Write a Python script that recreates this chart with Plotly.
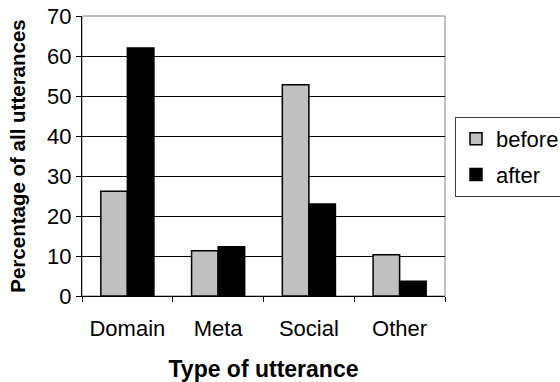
import plotly.graph_objects as go

categories = ["Domain", "Meta", "Social", "Other"]
before = [26.2, 11.3, 52.8, 10.3]
after = [62.0, 12.3, 23.0, 3.7]
series_names = ["before", "after"]

FONT = "Liberation Sans, Arial, sans-serif"

# plot area in pixels: x 82..445, y 16..296
PL, PW, PB, PH = 82, 363, 296, 280

fig = go.Figure()
fig.add_trace(go.Bar(
    x=categories, y=before, name=series_names[0], legendgroup="g1",
    marker=dict(color="#c0c0c0", line=dict(color="black", width=1.5)),
))
fig.add_trace(go.Bar(
    x=categories, y=after, name=series_names[1], legendgroup="g2",
    marker=dict(color="black", line=dict(color="black", width=1.5)),
))

fig.update_layout(
    width=560, height=382,
    margin=dict(l=PL, r=560 - PL - PW, t=PB - PH, b=382 - PB, autoexpand=False),
    paper_bgcolor="white", plot_bgcolor="white",
    barmode="group", bargap=0.415, bargroupgap=0,
    font=dict(family=FONT, size=22, color="black"),
    showlegend=True,
    legend=dict(
        xref="container", yref="container",
        x=455 / 560, xanchor="left", y=1 - 117 / 382, yanchor="top",
        borderwidth=1, bordercolor="#404040", bgcolor="white",
        font=dict(size=22), tracegroupgap=4,
    ),
    xaxis=dict(
        automargin=False,
        showline=True, linecolor="black", linewidth=1,
        ticks="outside", ticklen=5, tickcolor="black", tickson="boundaries",
        tickfont=dict(size=22), ticklabelstandoff=13,
        title=dict(text="<b>Type of utterance</b>", font=dict(size=23), standoff=20),
    ),
    yaxis=dict(
        automargin=False,
        range=[0, 70], dtick=10, tickmode="linear", tick0=0,
        showline=True, linecolor="black", linewidth=1,
        showgrid=True, gridcolor="black", gridwidth=1,
        ticks="outside", ticklen=5, tickcolor="black",
        tickfont=dict(size=22), zeroline=False,
        title=dict(text="<b>Percentage of all utterances</b>", font=dict(size=20.5), standoff=15),
    ),
    shapes=[
        # plot frame
        dict(type="rect", xref="paper", yref="paper", x0=0, x1=1, y0=0, y1=1,
             line=dict(color="#808080", width=1), layer="below"),
    ],
)

fig.write_html("out.html")
